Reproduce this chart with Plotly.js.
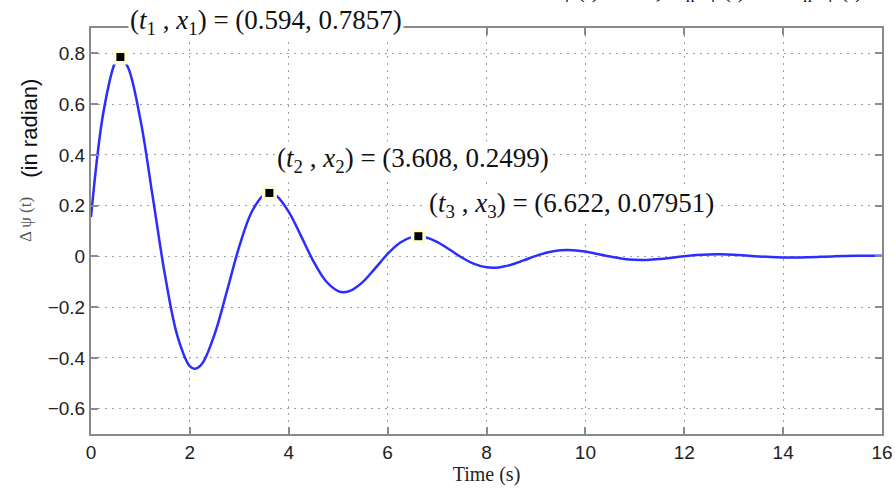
<!DOCTYPE html>
<html>
<head>
<meta charset="utf-8">
<script src="https://cdn.plot.ly/plotly-3.0.1.min.js"></script>
<style>html,body{margin:0;padding:0;background:#fff;}#chart{width:895px;height:490px;}</style>
</head>
<body>
<div id="chart"></div>
<script>
// Response curve (time in s, angle in radian)
const timeS = [0, 0.25, 0.5, 0.594, 0.75, 1, 1.25, 1.5, 1.75, 2, 2.101, 2.25, 2.5, 2.75, 3, 3.25, 3.5, 3.608, 3.75, 4, 4.25, 4.5, 4.75, 5, 5.115, 5.25, 5.5, 5.75, 6, 6.25, 6.5, 6.622, 6.75, 7, 7.25, 7.5, 7.75, 8, 8.25, 8.5, 8.75, 9, 9.25, 9.5, 9.75, 10, 10.25, 10.5, 10.75, 11, 11.25, 11.5, 11.75, 12, 12.25, 12.5, 12.75, 13, 13.25, 13.5, 13.75, 14, 14.25, 14.5, 14.75, 15, 15.25, 15.5, 15.75, 16];
const dPsi = [0.155, 0.567, 0.769, 0.7857, 0.744, 0.538, 0.233, -0.0776, -0.315, -0.433, -0.4429, -0.422, -0.307, -0.137, 0.0393, 0.1747, 0.2431, 0.2499, 0.2389, 0.1756, 0.0798, -0.0196, -0.0969, -0.1367, -0.1409, -0.1353, -0.1003, -0.0466, 0.0096, 0.0537, 0.0768, 0.0795, 0.0766, 0.0574, 0.0272, -0.0046, -0.0297, -0.0431, -0.0434, -0.0328, -0.0159, 0.0021, 0.0165, 0.0242, 0.0246, 0.0188, 0.0092, -0.0009, -0.0091, -0.0136, -0.0139, -0.0107, -0.0054, 0.0004, 0.0050, 0.0076, 0.0079, 0.0061, 0.0031, -0.0001, -0.0028, -0.0043, -0.0045, -0.0035, -0.0018, 0.0000, 0.0015, 0.0024, 0.0025, 0.0020];
// Marked peaks
const peakT = [0.594, 3.608, 6.622];
const peakX = [0.7857, 0.2499, 0.07951];
const peakLabels = ["(0.594, 0.7857)", "(3.608, 0.2499)", "(6.622, 0.07951)"];
const xTicks = [0, 2, 4, 6, 8, 10, 12, 14, 16];
const yTicks = [-0.6, -0.4, -0.2, 0, 0.2, 0.4, 0.6, 0.8];
const yTickText = ["\u22120.6", "\u22120.4", "\u22120.2", "0", "0.2", "0.4", "0.6", "0.8"];

const traces = [
  {x: timeS, y: dPsi, type: 'scatter', mode: 'lines',
   line: {color: 'rgb(45,45,255)', width: 2.5, shape: 'spline', smoothing: 1}, hoverinfo: 'skip'},
  {x: peakT, y: peakX, type: 'scatter', mode: 'markers',
   marker: {symbol: 'square', size: 15, color: 'rgb(255,255,215)', line: {width: 0}}},
  {x: peakT, y: peakX, type: 'scatter', mode: 'markers',
   marker: {symbol: 'square', size: 8, color: '#000', line: {width: 0}}}
];

// label centres in paper coordinates
const labelPos = [[0.221, 1.015], [0.407, 0.675], [0.607, 0.564]];
const serif = 'Liberation Serif, Times New Roman, serif';
const annotations = peakLabels.map((v, i) => ({
  x: labelPos[i][0], y: labelPos[i][1], xref: 'paper', yref: 'paper',
  text: '(<i>t</i><sub>' + (i + 1) + '</sub> , <i>x</i><sub>' + (i + 1) + '</sub>) = ' + v,
  showarrow: false, xanchor: 'center', yanchor: 'middle',
  bgcolor: '#fff', borderpad: 1,
  font: {family: serif, size: 27, color: '#111'}
}));
annotations.push({
  xref: 'paper', yref: 'paper', x: -0.0771, y: 0.752, textangle: -90,
  showarrow: false, xanchor: 'center', yanchor: 'middle',
  text: '(in radian)',
  font: {family: 'Liberation Sans, Arial, sans-serif', size: 22, color: '#111'}
});
annotations.push({
  xref: 'paper', yref: 'paper', x: -0.0834, y: 0.527, textangle: -90,
  showarrow: false, xanchor: 'center', yanchor: 'middle',
  text: '\u0394 \u03c8 (t)',
  font: {family: serif, size: 17, color: '#555'}
});
annotations.push({
  xref: 'paper', yref: 'paper', x: 0.978, y: 1.092,
  showarrow: false, xanchor: 'right', yanchor: 'middle',
  text: '<i>\u03c8</i>(<i>t</i>)  =  2<i>\u03b6 \u03c9</i><sub>n</sub>  <i>\u03c8</i>(<i>t</i>)  \u2212  <i>\u03c9</i><sub>n</sub>  <i>\u03c8</i>(<i>t</i>)',
  font: {family: serif, size: 25, color: '#111'}
});

const axisCommon = {
  showline: true, linecolor: '#8a8a8a', linewidth: 2, mirror: 'ticks',
  ticks: 'inside', ticklen: 7, tickwidth: 2, tickcolor: '#8a8a8a',
  showgrid: true, gridcolor: '#a0a0a0', gridwidth: 1, griddash: '2px,5px',
  zeroline: false,
  tickfont: {family: 'Liberation Sans, Arial, sans-serif', size: 19, color: '#222'}
};

const layout = {
  width: 895, height: 490,
  margin: {l: 91, r: 13, t: 28, b: 56},
  paper_bgcolor: '#fff', plot_bgcolor: '#fff',
  showlegend: false,
  xaxis: Object.assign({}, axisCommon, {
    range: [0, 16], tickvals: xTicks, ticktext: xTicks.map(String),
    title: {text: 'Time (s)', font: {family: serif, size: 20, color: '#222'}, standoff: 4}
  }),
  yaxis: Object.assign({}, axisCommon, {
    range: [-0.7, 0.9], tickvals: yTicks, ticktext: yTickText
  }),
  annotations: annotations
};

Plotly.newPlot('chart', traces, layout, {staticPlot: true, displayModeBar: false});
</script>
</body>
</html>
